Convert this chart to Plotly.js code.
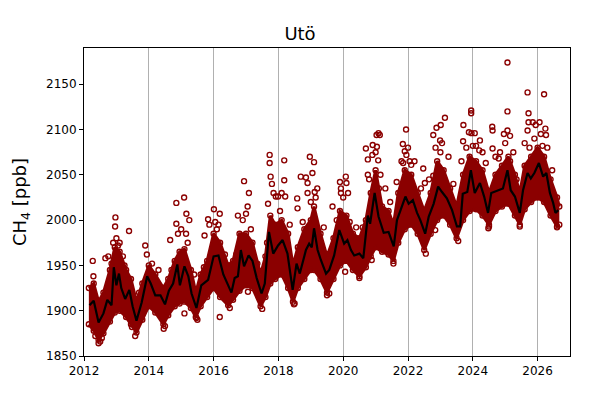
<!DOCTYPE html>
<html>
<head>
<meta charset="utf-8">
<script src="https://cdn.plot.ly/plotly-3.0.1.min.js"></script>
<style>
  html, body { margin: 0; padding: 0; background: white; }
  #plot { width: 600px; height: 400px; }
</style>
</head>
<body>
<div id="plot"></div>
<script>
// Running mean (black line), decimal year / ppb
const meanT = [2012.17, 2012.3, 2012.45, 2012.6, 2012.72, 2012.85, 2012.92, 2013.0, 2013.08, 2013.15,
  2013.27, 2013.4, 2013.5, 2013.62, 2013.78, 2013.95, 2014.06, 2014.2, 2014.36, 2014.5,
  2014.62, 2014.75, 2014.88, 2014.96, 2015.1, 2015.22, 2015.32, 2015.47, 2015.62, 2015.83,
  2016.0, 2016.15, 2016.3, 2016.45, 2016.55, 2016.65, 2016.75, 2016.84, 2016.94, 2017.08,
  2017.2, 2017.33, 2017.48, 2017.58, 2017.71, 2017.84, 2017.99, 2018.13, 2018.28, 2018.44,
  2018.56, 2018.66, 2018.85, 2018.95, 2019.03, 2019.1, 2019.21, 2019.31, 2019.47, 2019.57,
  2019.72, 2019.88, 2020.03, 2020.13, 2020.24, 2020.34, 2020.5, 2020.62, 2020.76, 2020.83,
  2020.97, 2021.09, 2021.25, 2021.4, 2021.56, 2021.66, 2021.81, 2021.92, 2022.02, 2022.15,
  2022.28, 2022.38, 2022.53, 2022.64, 2022.79, 2022.93, 2023.05, 2023.2, 2023.36, 2023.51,
  2023.61, 2023.69, 2023.83, 2023.94, 2024.06, 2024.22, 2024.35, 2024.47, 2024.57, 2024.78,
  2024.93, 2025.07, 2025.17, 2025.3, 2025.45, 2025.55, 2025.69, 2025.79, 2025.9, 2026.04,
  2026.17, 2026.27, 2026.38, 2026.48, 2026.55, 2026.64];
const meanV = [1906, 1911, 1887, 1897, 1912, 1906, 1948, 1928, 1941, 1925,
  1913, 1923, 1905, 1889, 1909, 1938, 1930, 1917, 1917, 1907,
  1922, 1930, 1951, 1928, 1949, 1938, 1919, 1903, 1928, 1934,
  1960, 1961, 1940, 1928, 1920, 1936, 1938, 1967, 1949, 1961,
  1955, 1936, 1919, 1930, 1987, 1963, 1972, 1978, 1963, 1923,
  1952, 1941, 1967, 1974, 1970, 1991, 1967, 1956, 1941, 1945,
  1961, 1989, 1974, 1978, 1967, 1961, 1963, 1958, 2005, 1996,
  2030, 2004, 1986, 1987, 1971, 2000, 2015, 2026, 2018, 2022,
  2008, 2000, 1985, 2004, 2018, 2037, 2031, 2024, 2011, 1993,
  1993, 2029, 2031, 2055, 2030, 2041, 2026, 2008, 2030, 2033,
  2035, 2055, 2033, 2026, 2008, 2033, 2052, 2046, 2052, 2063,
  2048, 2052, 2030, 2019, 2008, 2011];

// Dense part of the hourly cloud: lower and upper edge
const bandT = [2012.15, 2012.3, 2012.45, 2012.6, 2012.8, 2012.95, 2013.1, 2013.3, 2013.45, 2013.62,
  2013.8, 2014.0, 2014.2, 2014.45, 2014.6, 2014.8, 2014.95, 2015.1, 2015.3, 2015.45,
  2015.6, 2015.8, 2016.0, 2016.2, 2016.45, 2016.6, 2016.8, 2017.0, 2017.2, 2017.45,
  2017.6, 2017.75, 2017.9, 2018.1, 2018.3, 2018.45, 2018.6, 2018.8, 2019.0, 2019.1,
  2019.3, 2019.5, 2019.7, 2019.9, 2020.1, 2020.3, 2020.5, 2020.7, 2020.85, 2021.0,
  2021.2, 2021.4, 2021.55, 2021.7, 2021.9, 2022.1, 2022.3, 2022.5, 2022.7, 2022.9,
  2023.1, 2023.3, 2023.5, 2023.7, 2023.9, 2024.1, 2024.3, 2024.5, 2024.7, 2024.9,
  2025.1, 2025.3, 2025.45, 2025.6, 2025.8, 2026.0, 2026.2, 2026.4, 2026.6, 2026.67];
const bandLo = [1885, 1878, 1868, 1875, 1888, 1898, 1900, 1893, 1885, 1876,
  1890, 1905, 1898, 1885, 1895, 1905, 1908, 1910, 1903, 1893,
  1905, 1915, 1925, 1915, 1906, 1912, 1922, 1928, 1925, 1905,
  1915, 1930, 1935, 1940, 1925, 1910, 1925, 1935, 1945, 1945,
  1935, 1920, 1935, 1950, 1955, 1945, 1938, 1948, 1960, 1970,
  1965, 1962, 1955, 1975, 1990, 1995, 1985, 1967, 1985, 2000,
  2005, 1995, 1980, 2000, 2010, 2012, 2005, 1995, 2010, 2015,
  2018, 2005, 1995, 2012, 2020, 2025, 2020, 2005, 1993, 1995];
const bandHi = [1925, 1930, 1910, 1920, 1945, 1970, 1965, 1945, 1935, 1910,
  1930, 1950, 1940, 1925, 1935, 1955, 1965, 1968, 1945, 1920,
  1940, 1955, 1985, 1975, 1950, 1955, 1985, 1985, 1975, 1940,
  1960, 2005, 1995, 2000, 1985, 1950, 1970, 1990, 2000, 2015,
  1985, 1960, 1980, 2010, 2005, 1985, 1980, 2000, 2030, 2055,
  2015, 2010, 1995, 2030, 2055, 2050, 2030, 2010, 2030, 2065,
  2055, 2035, 2015, 2050, 2070, 2065, 2055, 2030, 2050, 2060,
  2070, 2050, 2030, 2060, 2070, 2080, 2070, 2045, 2025, 2015];

// Single hours outside the dense part
const outT = [2012.27, 2012.29, 2012.66, 2012.97, 2012.96, 2013.39, 2013.89, 2013.94, 2012.45, 2012.5,
  2013.48, 2013.58, 2014.46, 2014.66, 2014.85, 2014.85, 2015.09, 2015.16, 2015.25, 2015.1,
  2015.47, 2015.72, 2015.83, 2015.87, 2016.01, 2016.19, 2016.19, 2016.75, 2016.94, 2017.0,
  2017.09, 2017.06, 2017.68, 2017.73, 2017.73, 2017.76, 2017.92, 2017.99, 2018.18, 2018.18,
  2018.21, 2018.48, 2018.58, 2018.59, 2018.69, 2018.85, 2018.9, 2018.97, 2019.05, 2019.1,
  2019.12, 2019.57, 2019.67, 2019.9, 2019.93, 2019.93, 2020.08, 2020.1, 2020.06, 2020.7,
  2020.76, 2020.76, 2020.88, 2020.9, 2020.91, 2021.03, 2021.04, 2021.09, 2021.13, 2021.08,
  2021.84, 2021.9, 2021.94, 2021.95, 2021.85, 2022.1, 2022.47, 2022.52, 2022.78, 2022.88,
  2023.01, 2023.14, 2022.99, 2022.78, 2022.84, 2023.71, 2023.7, 2023.95, 2023.95, 2023.88,
  2023.96, 2024.06, 2024.22, 2024.2, 2024.48, 2024.6, 2024.61, 2024.61, 2024.84, 2024.96,
  2025.07, 2025.07, 2025.07, 2025.15, 2025.69, 2025.69, 2025.72, 2025.72, 2025.85, 2025.94,
  2026.06, 2026.2, 2026.24, 2026.26,
  2012.9, 2013.0, 2013.1, 2013.2, 2012.75, 2014.9, 2015.0, 2015.15, 2016.05, 2016.15,
  2016.9, 2017.05, 2017.8, 2017.85, 2018.1, 2018.9, 2019.0, 2019.2, 2020.0, 2020.15,
  2020.8, 2021.0, 2021.15, 2021.3, 2021.8, 2022.0, 2022.2, 2022.85, 2023.05, 2023.25,
  2023.8, 2024.1, 2024.3, 2024.7, 2025.0, 2025.25, 2025.6, 2025.9, 2026.1, 2026.3,
  2012.35, 2012.55, 2014.5, 2015.5, 2016.5, 2017.5, 2018.5, 2019.5, 2020.5, 2021.55,
  2022.55, 2023.55, 2024.5, 2025.45, 2026.6,
  2012.85, 2013.05, 2013.25, 2013.7, 2014.1, 2014.3, 2014.7, 2015.2, 2015.4, 2015.7,
  2016.1, 2016.35, 2016.7, 2017.15, 2017.35, 2017.65, 2018.05, 2018.35, 2018.75, 2019.15,
  2019.4, 2019.8, 2020.2, 2020.4, 2020.6, 2021.1, 2021.45, 2021.65, 2022.05, 2022.4,
  2022.65, 2023.0, 2023.4, 2023.65, 2024.0, 2024.4, 2024.8, 2025.15, 2025.35, 2025.75,
  2026.15, 2026.45];
const outV = [1955, 1938, 1958, 2003, 1993, 1988, 1972, 1962, 1864, 1866,
  1882, 1872, 1880, 1978, 2019, 1996, 2025, 2007, 2000, 1897,
  1892, 1983, 2001, 1995, 2012, 2007, 1893, 2005, 2043, 2007,
  2030, 1921, 2018, 2072, 2063, 2048, 2026, 2026, 2066, 2044,
  2026, 1907, 2024, 2013, 2048, 2047, 2041, 2070, 2052, 2064,
  2031, 1919, 2015, 2042, 2035, 2030, 2048, 2041, 1943, 2079,
  2067, 2050, 1956, 2072, 2083, 2094, 2081, 2096, 2094, 2066,
  2084, 2076, 2100, 2072, 2063, 2061, 2057, 2041, 2094, 2102,
  2105, 2113, 2088, 2049, 1989, 2105, 2087, 2121, 2118, 2097,
  2096, 2096, 2088, 2077, 1991, 2103, 2099, 2079, 2075, 2095,
  2174, 2120, 2099, 2093, 2141, 2099, 2118, 2108, 2108, 2105,
  2108, 2139, 2101, 2094,
  1975, 1980, 1975, 1960, 1960, 1985, 1990, 1985, 1998, 1995,
  2000, 2015, 2040, 2030, 2030, 2030, 2020, 2035, 2025, 2030,
  2045, 2075, 2050, 2035, 2065, 2080, 2065, 2080, 2085, 2070,
  2080, 2082, 2075, 2070, 2085, 2075, 2085, 2090, 2095, 2080,
  1872, 1870, 1883, 1890, 1903, 1902, 1908, 1917, 1936, 1952,
  1963, 1977, 1993, 1993, 1992,
  1952, 1972, 1950, 1920, 1952, 1945, 1945, 1975, 1940, 1948,
  1990, 1962, 1962, 1990, 1952, 1975, 2010, 1995, 1998, 2025,
  1992, 2000, 1998, 1992, 1992, 2035, 2020, 2042, 2065, 2035,
  2045, 2075, 2040, 2065, 2082, 2063, 2068, 2065, 2045, 2080,
  2082, 2055];

const red = '#8b0000';
const font = 'DejaVu Sans, sans-serif';
const ring = { symbol: 'circle-open', size: 5, color: red, line: { width: 1.4, color: red } };

const traces = [
  { x: bandT, y: bandLo, type: 'scatter', mode: 'lines+markers',
    line: { color: red, width: 3 }, marker: ring, hoverinfo: 'skip', showlegend: false },
  { x: bandT, y: bandHi, type: 'scatter', mode: 'lines+markers', fill: 'tonexty',
    fillcolor: red, line: { color: red, width: 3 }, marker: ring, hoverinfo: 'skip', showlegend: false },
  { x: outT, y: outV, type: 'scatter', mode: 'markers', showlegend: false, marker: ring },
  { x: meanT, y: meanV, type: 'scatter', mode: 'lines', showlegend: false,
    line: { color: 'black', width: 2.2 } }
];

const layout = {
  width: 600, height: 400,
  margin: { l: 84, r: 30, t: 48, b: 44 },
  paper_bgcolor: 'white', plot_bgcolor: 'white',
  font: { family: font, size: 12, color: 'black' },
  title: { text: 'Utö', font: { family: font, size: 18, color: 'black' }, x: 0.5, xanchor: 'center', y: 0.915, yanchor: 'middle' },
  xaxis: {
    range: [2012, 2027], tick0: 2012, dtick: 2, tickformat: 'd',
    showgrid: true, gridcolor: '#b0b0b0', gridwidth: 1, zeroline: false,
    showline: true, linecolor: 'black', linewidth: 1, mirror: true,
    ticks: 'outside', ticklen: 4, tickcolor: 'black'
  },
  yaxis: {
    range: [1850, 2190], tick0: 1850, dtick: 50, tickformat: 'd',
    showgrid: false, zeroline: false,
    showline: true, linecolor: 'black', linewidth: 1, mirror: true,
    ticks: 'outside', ticklen: 4, tickcolor: 'black',
    title: { text: 'CH<sub>4</sub> [ppb]', font: { family: font, size: 18, color: 'black' }, standoff: 14 }
  }
};

Plotly.newPlot('plot', traces, layout, { displayModeBar: false, staticPlot: true });
</script>
</body>
</html>
